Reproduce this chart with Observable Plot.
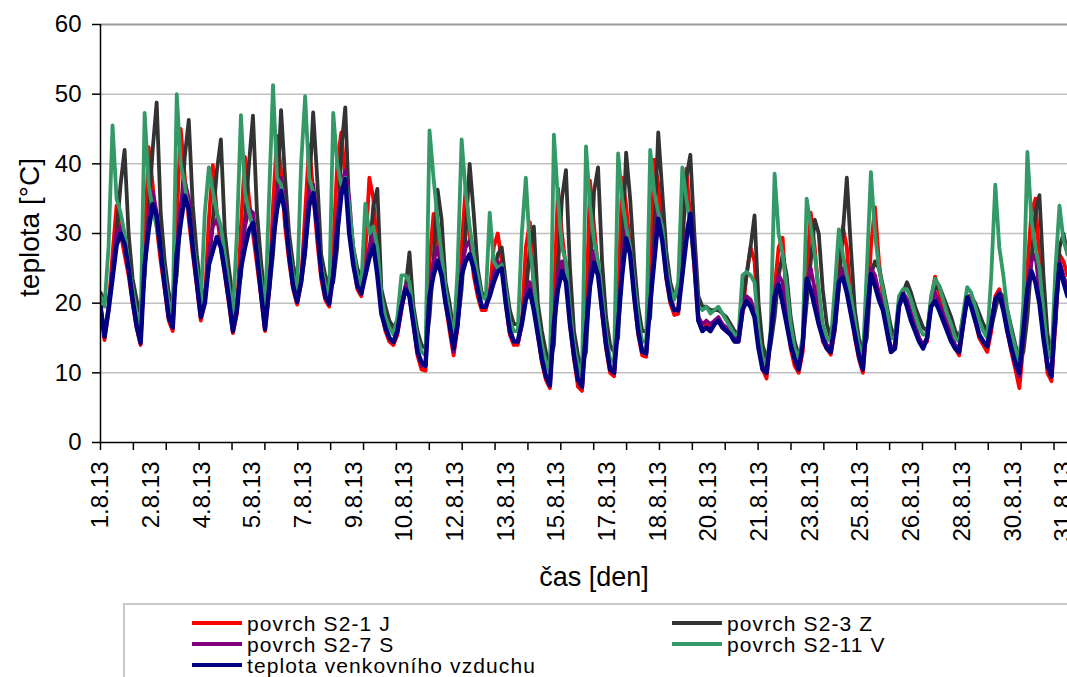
<!DOCTYPE html>
<html><head><meta charset="utf-8">
<script src="https://cdn.jsdelivr.net/npm/d3@7"></script>
<script src="https://cdn.jsdelivr.net/npm/@observablehq/plot@0.6"></script>
<style>
body{margin:0;background:#fff;font-family:"Liberation Sans",Arial,sans-serif;overflow:hidden}
#wrap{position:relative;width:1067px;height:677px;overflow:hidden;background:#fff}
#chart{position:absolute;left:0;top:0}
#legend{position:absolute;left:123px;top:603px;width:1000px;height:100px;border:2px solid #c8c8c8;box-sizing:border-box;background:#fff}
.item{position:absolute;font-size:21px;line-height:21px;height:21px;letter-spacing:1.1px;color:#000;white-space:nowrap}
.sw{position:absolute;height:4px;width:50px}
</style></head><body><div id="wrap"><div id="chart"></div><div id="legend"></div></div>
<script>
// x position in axis "days" (8 samples per day), values in °C
const seriesNames = ["povrch S2-1 J","povrch S2-3 Z","povrch S2-7 S","povrch S2-11 V","teplota venkovního vzduchu"];
const seriesColors = ["#ff0000","#333333","#800080","#339966","#000080"];
const xLabels = ["1.8.13","2.8.13","4.8.13","5.8.13","7.8.13","9.8.13","10.8.13","12.8.13","13.8.13","15.8.13","17.8.13","18.8.13","20.8.13","21.8.13","23.8.13","25.8.13","26.8.13","28.8.13","30.8.13","31.8.13"];
const yTicks = [0,10,20,30,40,50,60];

const s2_1_J = [
19.5,14.7,19,27,34,30,27,24,
20,16.5,14,28,42.4,37,31,26,
22,17.5,16,32,45,38,32,27,
22.5,17.5,20,32,39.8,33,28,24,
20,15.7,18.5,31,41,35,30,25.5,
21,16,21.5,34,44,39,31,26,
22,19.8,23,33,42.7,36,29,23.5,
20.5,19.5,28,40,44.5,38,33,26,
22,21,27,38,35,27,19,16,
14.5,14,15.5,19,22,21,17,12.5,
10.5,10.3,26,32.8,29,25,20,16,
12.5,16.5,28,36.6,30,24,21,19,
19,21.5,28,30,26,20,15.5,14,
14,17,28,31.6,22,15.5,11.5,9,
7.8,20,36.5,30,25,17,12,8,
7.4,18,37.6,31,25,18.5,13.5,10,
9.5,20,38,34,28,21,15.5,12.5,
12.3,24,40.6,37,30,23.5,20,18.3,
18.5,32,39.3,32,25,17.5,16,17,
16.5,17,17.5,16.5,16,15.5,14.5,14.5,
18.5,24,28,26,16,10.5,9.2,15,
22,28,29.4,20,13.5,11,10,13,
24,33,28,21,14.5,13.5,12.6,16,
24,31,28,20,15,12,10,17,
28,33.8,26,21,16,13,13.5,20,
21.5,20.5,18.5,17,15,14,14.5,20.5,
23.8,21.5,18.5,17,15.5,13.5,12.5,17,
21,20,17.5,15,14,13,16,21,
22,20,16,13,10.5,7.8,14,25,
33,35,26,17,10,8.8,17,27,
26,24];

const s2_3_Z = [
21.5,20.5,20.5,24,30,37,42,30,
23.5,20.5,18.5,24,33,42,48.8,33,
26,21.5,20,24,33,41,46.3,34,
27,22,21.5,25,32,39,43.5,30,
25,20.5,20.5,24,32,40,46.9,33,
26,20.5,21.5,27,35,47.7,38,30,
25.5,23,23,27,36,47.4,38,27,
24,22.5,23,28,42,48.1,33,28,
25,23.5,24,27,34,36.4,22,19.5,
17.5,16.5,17.5,19.5,22,27.3,19.5,16,
14,13.5,18,26,36.3,32,23,20,
16,17,22,30,40,33,25,21.5,
21,21.5,24,27,28,23,19,17,
17,17.5,21,28,31,20,16,13,
11.5,14,25,35,39.1,25,16,12.5,
11,13,24,36,39.5,26,18,14,
13,15,27,41.6,35,26,19.5,16,
16,18,30,44.5,36,27.5,23,21,
21,28,38,41.3,30,21,19.5,19.5,
19,19,19,18.5,18,17,16,15.5,
20,24,28,32.6,20,14,12,14,
18,24,27,24,18,14.5,12.5,14,
20,26,32,30,22,17,15,16,
22,30,38,28,19,15,13,15,
24,26,25,22.5,19.5,16.5,15,20,
21.5,23,21.5,19.5,18,16.5,16,20,
22,22.5,21,19.5,18,16,15,18,
21,21,20,18.5,17,16,16.5,19,
21.5,21,19,16.5,14,12,13,18,
26,33,35.5,24,15.5,13,17,28,
30,27];

const s2_7_S = [
19.5,15.5,19.5,25,30,31,29,25,
20.5,17,15,26,32,36,33,28,
22.5,18.5,17,28,34,37.5,35,28.5,
23,18.5,20.5,27,31,32,30,25,
21,16.5,19,26,31,33.5,33,27.5,
21.5,17,22,30,36,38,34,27.5,
22.5,20.5,23.5,30,36,37,32,25,
21,20,25,32,37,39,35,27.5,
22.5,21.5,25,28,30,25,19,16.5,
15,14.5,16,20,22.5,21.5,17.5,13.5,
11,11,22,26,28,25,20.5,17,
13,17,25,28,29,25.5,22,19.5,
19.5,21.5,24,26,25,20.5,16.5,14.5,
14.5,17,21.5,23,20,16,12,9.5,
8.5,18,24,26,24,17.5,13,9,
8,17,24,27.5,25,19.5,14.5,10.5,
10,18,26,31,28,22,16.5,13,
13,21,28,33.5,30,24.5,21,19,
19,25,30,33,27,18,17,17.5,
17,17.5,18,17,16.5,16,15,15,
19.5,21,20.5,19,14,11,10.5,15,
21.5,24,23,18,14.5,12,11,14,
23,25,22,18,15.5,14,13.5,17,
23,25,23,19,16,13,11,18,
25,24,21.5,19.5,16.5,13.5,14,20,
21.5,20.5,18.5,17,15,14,15,20,
21.5,20,18.5,17,15.5,14,13.5,17,
21,20,18,15.5,14.5,14,17,20.5,
21.5,20,16.5,14,11,9.5,15,22.5,
26,27,22,16,11.5,10,18,26,
24,22];

const s2_11_V = [
21,19.5,28,45.5,35,33,30,25.5,
22,18.5,17,47.3,37,33.5,31,28,
24,20,18.5,50,40,37,33,29,
25,20,33,39.5,36,33,31,27,
22.5,18.5,30,47,36,33,31,28,
23.5,18.5,35,51.3,38,37,33,28,
24,22,40,49.7,38,36,31,25.5,
22.5,21,47.3,40,37,38,34,28,
24,22.5,34.3,30,31,28,21,18,
16.5,15.5,18,24,24,23,18.5,15,
13,12.5,44.8,38,32,27,22,18.5,
14.5,25,43.5,36,31,27,24,21,
20.5,33,26,25,25.5,22,17.5,16,
16,30,38,28,23,18,14,11.5,
10,44.2,35,28,26,19,14,11,
9.5,42.5,34,29,26,21,15.5,12,
11.5,41.5,35,31,28,23,18,14.5,
14.5,42,36,33,31,25.5,22,20.5,
23,39.5,35,31,26,19.5,19,19.5,
18.5,19,19.5,18.5,17.5,16.5,15.5,15.5,
24,24.5,24,23,16,12,11,16,
38.6,30,27,22.5,17,13.5,12,15,
35,31,27,22,17,15,14.5,22,
30.6,27,24,21,17.5,14,12,25,
38.8,30,25,22,19,15,15,21,
22,22,20.5,18.5,16.5,15.5,15.5,21,
23.5,22.5,20.5,18.5,17,15,14.5,18.5,
22.3,21.5,19.5,17.5,16,15,24,37,
28,24,19,16,13.5,11.5,20,41.7,
32,28,25,19,13,12,25,34,
29,27];

const vzduch = [
19.5,15.2,19,23.6,28.3,30,28.5,25,
20.5,16.7,14.3,25.5,30.5,34.2,32.5,27.5,
22.5,18,16.5,27,31.5,35.4,33.5,28,
23,18,20,25.5,27.5,29.5,28,24.5,
20.5,16,19,25,28,30.5,31.5,27,
21.5,16.3,22,29,33.5,36.1,33,27,
22.5,20.2,23,28,34,35.8,31,24.5,
21,19.9,24,30,35.5,37.8,30,25.5,
22.5,21.4,24,26.5,28.3,24,18.5,16.5,
15,14.4,16,19.5,22,21,17,13,
11.5,11,21,24,26.1,24,20,17,
13.5,17,24,26,27,25,22,19.5,
19.5,21,23,24.5,25,20,16,14.5,
14.5,17,20.5,21.8,19,15.5,12,9.5,
8.2,17,22,24.6,23,17,12.5,9,
8,16,22.5,25.8,24,19,14,10.5,
10,17,24,29.3,27,21,16,13,
12.8,20,26,32.1,29,24,20.5,19,
19,24,29,32.8,26,17.5,16,16.5,
16,17,17.5,16.5,16,15.5,14.5,14.5,
19,20.3,19.5,18,13.5,10.5,10,15,
21,22.7,20,17,14,12,10.5,14,
23.5,22,19.5,17,15,13.5,13,17,
23,23.7,21.5,18.5,15.5,12.5,10.5,18,
24.2,22.5,20.5,19,16,13,13.5,19.5,
21.3,19.5,17.5,16,14.5,13.5,15,19.5,
20.3,19,17.5,16,14.5,13.5,13,17,
20.8,19.5,17.5,15.5,14.5,13.8,17,20.5,
21.3,19,16,13.5,11.5,10,16,22,
24.6,23,20,15,11,9.5,19,25.6,
23,21];

const seriesValues = [s2_1_J, s2_3_Z, s2_7_S, s2_11_V, vzduch];
const samplesPerDay = 8;

const rows = [];
seriesValues.forEach((vals, si) => vals.forEach((v, i) => rows.push({t: i / samplesPerDay, v, s: seriesNames[si]})));

const plotLeft = 100, plotRight = 1067, plotTop = 24, plotBottom = 442, H = 600;
const xMax = (plotRight - plotLeft) / 32.1;
const tickMarks = d3.range(30).map(k => k * 1.0243);
const labelPos = xLabels.map((_, k) => k * 30 / 19);
const labelMap = new Map(labelPos.map((p, k) => [p, xLabels[k]]));
const font = '"Liberation Sans", Arial, sans-serif';

const lineMarks = seriesNames.map((name, si) =>
  Plot.line(rows.filter(r => r.s === name), {
    x: "t", y: "v", stroke: seriesColors[si],
    strokeWidth: si === 4 ? 4.5 : 3.8, strokeLinejoin: "round", strokeLinecap: "round", clip: true
  })
);

const chart = Plot.plot({
  width: 1067, height: H,
  marginLeft: plotLeft, marginRight: 0, marginTop: plotTop, marginBottom: H - plotBottom,
  x: {domain: [0, xMax], axis: null},
  y: {domain: [0, 60], axis: null},
  style: {fontFamily: font, fontSize: "24px", color: "#000", background: "transparent", overflow: "visible"},
  marks: [
    Plot.ruleY([10, 20, 30, 40, 50], {stroke: "#c0c0c0", strokeWidth: 1.5}),
    Plot.ruleY([60], {stroke: "#9a9a9a", strokeWidth: 2}),
    ...lineMarks,
    Plot.ruleX([0], {stroke: "#000", strokeWidth: 1.5}),
    Plot.ruleY([0], {stroke: "#000", strokeWidth: 1.5}),
    Plot.axisY({ticks: yTicks, label: null, tickSize: 8, tickPadding: 11, fontSize: 24, stroke: "#000", strokeWidth: 1.5}),
    Plot.axisX({ticks: tickMarks, label: null, tickSize: 8, tickFormat: () => "", stroke: "#000", strokeWidth: 1.5}),
    Plot.axisX({ticks: labelPos, label: null, tickSize: 0, tickPadding: 19, tickRotate: -90, fontSize: 24, tickFormat: d => labelMap.get(d)}),
    Plot.text(["teplota [°C]"], {frameAnchor: "left", dx: -70, dy: -6, rotate: -90, fontSize: 28, textAnchor: "middle", lineAnchor: "middle"}),
    Plot.text(["čas [den]"], {frameAnchor: "bottom", dx: 10, dy: 135, fontSize: 27, textAnchor: "middle", lineAnchor: "middle"})
  ]
});
document.getElementById("chart").appendChild(chart);

// legend
const legendPos = [[67, 18], [547, 18], [67, 39], [547, 39], [67, 60]];
const legend = document.getElementById("legend");
seriesNames.forEach((name, i) => {
  const [lx, ly] = legendPos[i];
  const sw = document.createElement("div");
  sw.className = "sw";
  sw.style.left = lx + "px"; sw.style.top = (ly - 2) + "px"; sw.style.background = seriesColors[i];
  legend.appendChild(sw);
  const tx = document.createElement("div");
  tx.className = "item";
  tx.style.left = (lx + 55) + "px"; tx.style.top = (ly - 10) + "px";
  tx.textContent = name;
  legend.appendChild(tx);
});
</script></body></html>
